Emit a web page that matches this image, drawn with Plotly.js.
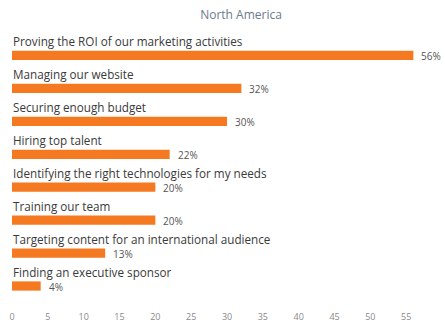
<!DOCTYPE html>
<html>
<head>
<meta charset="utf-8">
<script src="https://cdn.plot.ly/plotly-3.0.1.min.js"></script>
<style>html,body{margin:0;padding:0;background:#fff;}#chart{width:445px;height:330px;}</style>
</head>
<body>
<div id="chart"></div>
<script>
const categories = [
  "Proving the ROI of our marketing activities",
  "Managing our website",
  "Securing enough budget",
  "Hiring top talent",
  "Identifying the right technologies for my needs",
  "Training our team",
  "Targeting content for an international audience",
  "Finding an executive sponsor"
];
const values = [56, 32, 30, 22, 20, 20, 13, 4];
const valueLabels = values.map(v => v + "%");
const tickVals = [0, 5, 10, 15, 20, 25, 30, 35, 40, 45, 50, 55];

const trace = {
  type: "bar",
  orientation: "h",
  x: values,
  y: categories,
  width: 0.28,
  marker: {color: "#F47920"},
  cliponaxis: false,
  hoverinfo: "none"
};

const catAnnotations = categories.map(c => ({
  xref: "x", yref: "y", x: 0, y: c,
  text: c, showarrow: false,
  xanchor: "left", yanchor: "middle",
  yshift: 14, xshift: -1,
  font: {family: "Open Sans", size: 11.7, color: "#3a3a3a"}
}));

const valAnnotations = categories.map((c, i) => ({
  xref: "x", yref: "y", x: values[i], y: c,
  text: valueLabels[i], showarrow: false,
  xanchor: "left", yanchor: "middle",
  xshift: 6, yshift: -1,
  font: {family: "Open Sans", size: 10, color: "#555555"}
}));

const layout = {
  width: 445, height: 330,
  margin: {l: 12, r: 13, t: 39, b: 20},
  paper_bgcolor: "#ffffff",
  plot_bgcolor: "#ffffff",
  showlegend: false,
  title: {
    text: "North America",
    x: 241/445, xref: "container", xanchor: "center",
    y: 1 - 15/330, yref: "container", yanchor: "middle",
    font: {family: "Open Sans", size: 12, color: "#6b7b8c"}
  },
  xaxis: {
    range: [0, 58.6],
    tickvals: tickVals,
    ticktext: tickVals.map(String),
    showgrid: false, zeroline: false, showline: false,
    ticks: "", ticklen: 0,
    tickfont: {family: "Open Sans", size: 9, color: "#8a8a8a"}
  },
  yaxis: {
    autorange: "reversed",
    showticklabels: false,
    showgrid: false, zeroline: false, showline: false,
    ticks: ""
  },
  bargap: 0.72,
  annotations: catAnnotations.concat(valAnnotations)
};

Plotly.newPlot("chart", [trace], layout, {displayModeBar: false, staticPlot: true});
</script>
</body>
</html>
